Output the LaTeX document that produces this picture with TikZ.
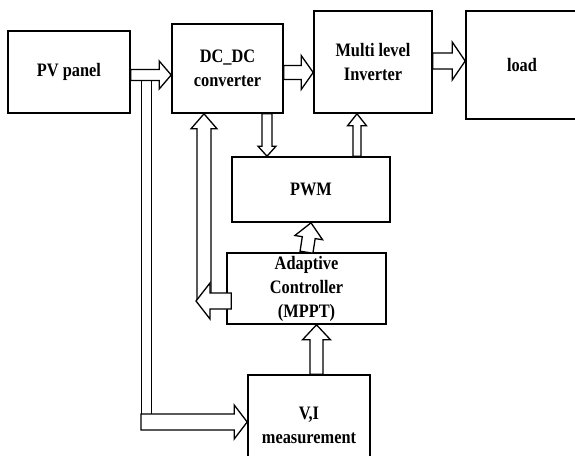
\documentclass[tikz,border=0pt]{standalone}
\usepackage{fontspec}
\newfontfamily\blockfont[FakeStretch=0.86]{Liberation Serif}
\usetikzlibrary{calc}
\tikzset{
	blockbox/.style={draw, line width=1.6pt, inner sep=0pt, align=center, font=\blockfont\bfseries\fontsize{19}{24}\selectfont},
	barrow/.style={draw, fill=white, line width=1.3pt, line join=miter},
	tapline/.style={line width=1.3pt}
}
% hollow block arrow: from, to, shaft half width, head half width, head length (pt)
\newcommand{\hollowarrow}[5]{\draw[barrow] let \p1=(#1), \p2=(#2),
	\n1={veclen(\x2-\x1,\y2-\y1)}, \n2={atan2(\y2-\y1,\x2-\x1)} in
	{[shift={(\p1)}, rotate=\n2] (0pt,#3pt) -- ({\n1-#5pt},#3pt) -- ({\n1-#5pt},#4pt) -- ({\n1},0pt)
	-- ({\n1-#5pt},-#4pt) -- ({\n1-#5pt},-#3pt) -- (0pt,-#3pt) -- cycle};}

\begin{document}
\begin{tikzpicture}[x=1pt, y=-1pt]
			%%%%% START %%%%%
			\useasboundingbox (0,0) rectangle (575,455);
			\clip (0,0) rectangle (575,455);
			
			\node[blockbox, minimum width=122pt, minimum height=82pt] (pv) at (69,72) {PV panel};
			\node[blockbox, minimum width=111pt, minimum height=89pt] (dcdc) at (227.5,68.5) {DC\_DC\\converter};
			\node[blockbox, minimum width=118pt, minimum height=102pt] (inv) at (373,62) {Multi level\\Inverter};
			\node[blockbox, minimum width=112pt, minimum height=108pt] (load) at (522,65) {load};
			\node[blockbox, minimum width=158pt, minimum height=65pt] (pwm) at (311,189.5) {PWM};
			\node[blockbox, minimum width=159pt, minimum height=71pt] (mppt) at (306.5,288.5) {Adaptive\\Controller\\(MPPT)};
			\node[blockbox, minimum width=122pt, minimum height=100pt] (vim) at (309,425) {V,I\\measurement};
			
			% branch taken from the PV output
			\coordinate (tapL) at ($(pv.east)+(11,8)$);
			\coordinate (tapR) at ($(pv.east)+(21,8)$);
			\coordinate (tapC) at (141,422);
			\draw[tapline] (tapL) -- (tapL |- 0,414);
			\draw[tapline] (tapR) -- (tapR |- 0,414);
			\hollowarrow{tapC}{vim.west |- tapC}{8}{17}{13}
			
			\coordinate (pvout) at ($(pv.east)+(0,3)$);
			\hollowarrow{pvout}{dcdc.west |- pvout}{5.5}{14}{12}
			\coordinate (dcout) at ($(dcdc.east)+(0,4)$);
			\hollowarrow{dcout}{inv.west |- dcout}{7}{17}{12}
			\coordinate (invout) at ($(inv.east)+(0,-1)$);
			\hollowarrow{invout}{load.west |- invout}{8}{19}{13}
			
			\coordinate (gate) at ($(dcdc.south)+(39.5,0)$);
			\hollowarrow{gate}{pwm.north -| gate}{5}{9}{10}
			\coordinate (drive) at ($(pwm.north)+(46,0)$);
			\hollowarrow{drive}{inv.south -| drive}{4}{9.5}{12}
			\hollowarrow{mppt.north}{pwm.south}{6.5}{14}{15}
			\coordinate (meas) at ($(vim.north)+(7.5,0)$);
			\hollowarrow{meas}{mppt.south -| meas}{6.5}{14}{15}
			
			% duty feedback to the converter
			\coordinate (fbk) at (204,300);
			\hollowarrow{fbk}{dcdc.south -| fbk}{7}{13}{15}
			\coordinate (ctlout) at ($(mppt.west)+(5,12.5)$);
			\hollowarrow{ctlout}{ctlout -| 196,0}{8}{18}{14}
			
			%%%%% END %%%%%
\end{tikzpicture}
\end{document}
